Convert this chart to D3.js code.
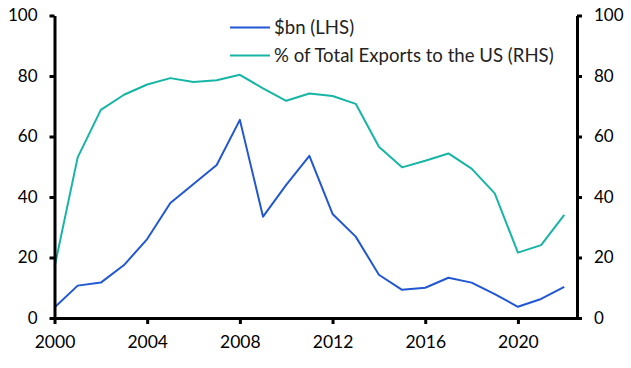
<!DOCTYPE html>
<html>
<head>
<meta charset="utf-8">
<script src="https://cdn.jsdelivr.net/npm/d3@7"></script>
<style>
  html, body { margin: 0; padding: 0; background: #fff; }
  svg text { font-family: Lato, "Open Sans", sans-serif; }
</style>
</head>
<body>
<svg id="chart" width="631" height="368"></svg>
<script>
const years = d3.range(2000, 2023);
const bnValues = [3.5, 10.7, 11.7, 17.5, 26.1, 38.0, 44.3, 50.6, 65.5, 33.5, 44.0, 53.6, 34.4, 26.9, 14.3, 9.3, 10.0, 13.3, 11.7, 7.9, 3.7, 6.3, 10.3];
const shareValues = [16.8, 53.1, 68.8, 73.8, 77.2, 79.3, 78.0, 78.6, 80.4, 75.9, 71.8, 74.2, 73.4, 70.8, 56.6, 49.8, 52.0, 54.4, 49.4, 41.2, 21.6, 24.1, 34.1];
const xTicks = [2000, 2004, 2008, 2012, 2016, 2020];
const yTicks = [0, 20, 40, 60, 80, 100];
const seriesNames = ["$bn (LHS)", "% of Total Exports to the US (RHS)"];
const colors = ["#2257d3", "#16b5a5"];

const svg = d3.select("#chart");
const mLeft = 54.5, mRight = 577, mTop = 15.5, mBottom = 318;

const x = d3.scaleLinear().domain([2000, 2022.55]).range([mLeft, mRight]);
const yL = d3.scaleLinear().domain([0, 100]).range([mBottom, mTop]);
const yR = d3.scaleLinear().domain([0, 100]).range([mBottom, mTop]);

const fontSize = 17;

// lines
const lineL = d3.line().x((d, i) => x(years[i])).y(d => yL(d));
const lineR = d3.line().x((d, i) => x(years[i])).y(d => yR(d));

svg.append("path").datum(shareValues)
  .attr("fill", "none").attr("stroke", colors[1]).attr("stroke-width", 2)
  .attr("stroke-linejoin", "round").attr("d", lineR);
svg.append("path").datum(bnValues)
  .attr("fill", "none").attr("stroke", colors[0]).attr("stroke-width", 2)
  .attr("stroke-linejoin", "round").attr("d", lineL);

// axes
function styleAxis(g) {
  g.select(".domain").attr("stroke", "#000").attr("stroke-width", 3);
  g.selectAll(".tick line").attr("stroke", "#000").attr("stroke-width", 3);
  g.selectAll(".tick text").attr("fill", "#000").style("font-size", fontSize + "px");
}

const gx = svg.append("g").attr("transform", `translate(0,${mBottom})`)
  .call(d3.axisBottom(x).tickValues(xTicks).tickFormat(d3.format("d")).tickSizeOuter(0).tickSizeInner(6).tickPadding(12));
styleAxis(gx);
gx.selectAll(".tick text").style("font-size", "17.5px");

const gl = svg.append("g").attr("transform", `translate(${mLeft},0)`)
  .call(d3.axisLeft(yL).tickValues(yTicks).tickSizeOuter(0).tickSizeInner(5).tickPadding(12));
styleAxis(gl);

const gr = svg.append("g").attr("transform", `translate(${mRight},0)`)
  .call(d3.axisRight(yR).tickValues(yTicks).tickSizeOuter(0).tickSizeInner(5).tickPadding(12));
styleAxis(gr);

// legend
const legend = svg.append("g");
const legendY = [27.5, 55.5];
seriesNames.forEach((name, i) => {
  legend.append("line").attr("x1", 230).attr("x2", 270)
    .attr("y1", legendY[i]).attr("y2", legendY[i])
    .attr("stroke", colors[i]).attr("stroke-width", 2);
  legend.append("text").attr("x", 274).attr("y", legendY[i])
    .attr("dy", "0.35em").attr("fill", "#222")
    .style("font-size", "18.6px").text(name);
});
</script>
</body>
</html>
